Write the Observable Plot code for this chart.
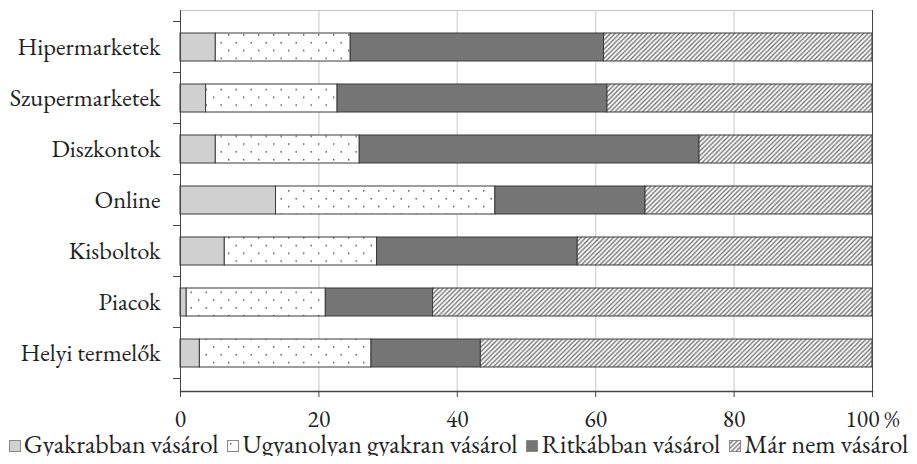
<!DOCTYPE html>
<html>
<head>
<meta charset="utf-8">
<script src="https://cdn.jsdelivr.net/npm/d3@7"></script>
<script src="https://cdn.jsdelivr.net/npm/@observablehq/plot@0.6"></script>
<style>
  html, body { margin: 0; padding: 0; background: #fff; }
  #chart { width: 917px; }
  .legend { display: flex; justify-content: center; align-items: center; gap: 9px;
    font-family: 'EB Garamond', monospace; font-size: 26px; color: #222;
    height: 24px; line-height: 24px; margin-top: -6px; white-space: nowrap; }
  .legend .item { display: flex; align-items: center; }
  .legend svg { margin-right: 3px; margin-top: 3px; }
</style>
</head>
<body>
<div id="chart"></div>
<script>
const categories = ["Hipermarketek", "Szupermarketek", "Diszkontok", "Online", "Kisboltok", "Piacok", "Helyi termelők"];
const series = ["Gyakrabban vásárol", "Ugyanolyan gyakran vásárol", "Ritkábban vásárol", "Már nem vásárol"];
const gyakrabban = [5.1, 3.7, 5.1, 13.8, 6.4, 0.9, 2.8];
const ugyanolyan = [19.5, 19.0, 20.8, 31.7, 22.0, 20.1, 24.8];
const ritkabban  = [36.6, 39.0, 49.1, 21.7, 29.0, 15.5, 15.8];
const marNem     = [38.8, 38.3, 25.0, 32.8, 42.6, 63.5, 56.6];
const xTicks = [0, 20, 40, 60, 80, 100];
const gridTicks = [20, 40, 60, 80];

const seriesValues = [gyakrabban, ugyanolyan, ritkabban, marNem];
const table = [];
categories.forEach((c, i) => {
  series.forEach((s, j) => table.push({category: c, series: s, value: seriesValues[j][i]}));
});

const fills = ["#d0d0d0", "url(#dots)", "#757575", "url(#hatch)"];
const FONT = "'EB Garamond', monospace";

const plot = Plot.plot({
  width: 917,
  height: 438,
  marginLeft: 180,
  marginRight: 45,
  marginTop: 10,
  marginBottom: 47,
  style: {fontFamily: FONT, fontSize: "24.5px", color: "#222", background: "#fff"},
  x: {domain: [0, 100], label: null},
  y: {domain: categories, padding: 0.45, label: null},
  color: {domain: series, range: fills},
  marks: [
    Plot.ruleX(gridTicks, {stroke: "#d9d9d9", strokeWidth: 1.5}),
    Plot.barX(table, Plot.stackX({x: "value", y: "category", fill: "series", stroke: "#3a3a3a", strokeWidth: 1})),
    Plot.frame({anchor: "top", stroke: "#c8c8c8"}),
    Plot.frame({anchor: "right", stroke: "#444"}),
    Plot.frame({anchor: "left", stroke: "#444"}),
    Plot.frame({anchor: "bottom", stroke: "#444", strokeWidth: 1.5}),
    Plot.axisY({tickSize: 0, tickPadding: 20, label: null}),
    Plot.axisX({ticks: xTicks, tickSize: 6, tickPadding: 13, stroke: "#444", label: null, fontSize: "23.5px",
      tickFormat: d => d === 100 ? "100 %" : String(d)})
  ]
});

// patterns
const svg = d3.select(plot);
svg.style("font-family", FONT);
const defs = svg.insert("defs", ":first-child");
const dots = defs.append("pattern").attr("id", "dots").attr("patternUnits", "userSpaceOnUse")
  .attr("width", 15).attr("height", 15.6);
dots.append("rect").attr("width", 15).attr("height", 15.6).attr("fill", "#fff");
dots.append("rect").attr("x", 3).attr("y", 3).attr("width", 1.4).attr("height", 1.4).attr("fill", "#444");
dots.append("rect").attr("x", 10.5).attr("y", 10.8).attr("width", 1.4).attr("height", 1.4).attr("fill", "#444");
const hatch = defs.append("pattern").attr("id", "hatch").attr("patternUnits", "userSpaceOnUse")
  .attr("width", 4.6).attr("height", 4.6);
hatch.append("rect").attr("width", 4.6).attr("height", 4.6).attr("fill", "#fff");
hatch.append("path").attr("d", "M-1.15,1.15 L1.15,-1.15 M0,4.6 L4.6,0 M3.45,5.75 L5.75,3.45")
  .attr("stroke", "#6a6a6a").attr("stroke-width", 1.3);

// category boundary ticks on left axis, from the band scale
const ys = plot.scale("y");
const xs = plot.scale("x");
const x0 = xs.apply(0);
const bounds = categories.map(c => ys.apply(c) - (ys.step - ys.bandwidth) / 2);
bounds.push(ys.apply(categories[categories.length - 1]) + ys.bandwidth + (ys.step - ys.bandwidth) / 2);
svg.append("g").selectAll("line").data(bounds).join("line")
  .attr("x1", x0 - 7).attr("x2", x0).attr("y1", d => d).attr("y2", d => d)
  .attr("stroke", "#444").attr("stroke-width", 1);

document.getElementById("chart").appendChild(plot);

// legend
const legend = d3.select("#chart").append("div").attr("class", "legend");
series.forEach((s, j) => {
  const item = legend.append("div").attr("class", "item");
  const sw = item.append("svg").attr("width", 12).attr("height", 12);
  sw.append("rect").attr("x", 0.5).attr("y", 0.5).attr("width", 11).attr("height", 11)
    .attr("fill", fills[j]).attr("stroke", "#888");
  item.append("span").text(s);
});
</script>
</body>
</html>
